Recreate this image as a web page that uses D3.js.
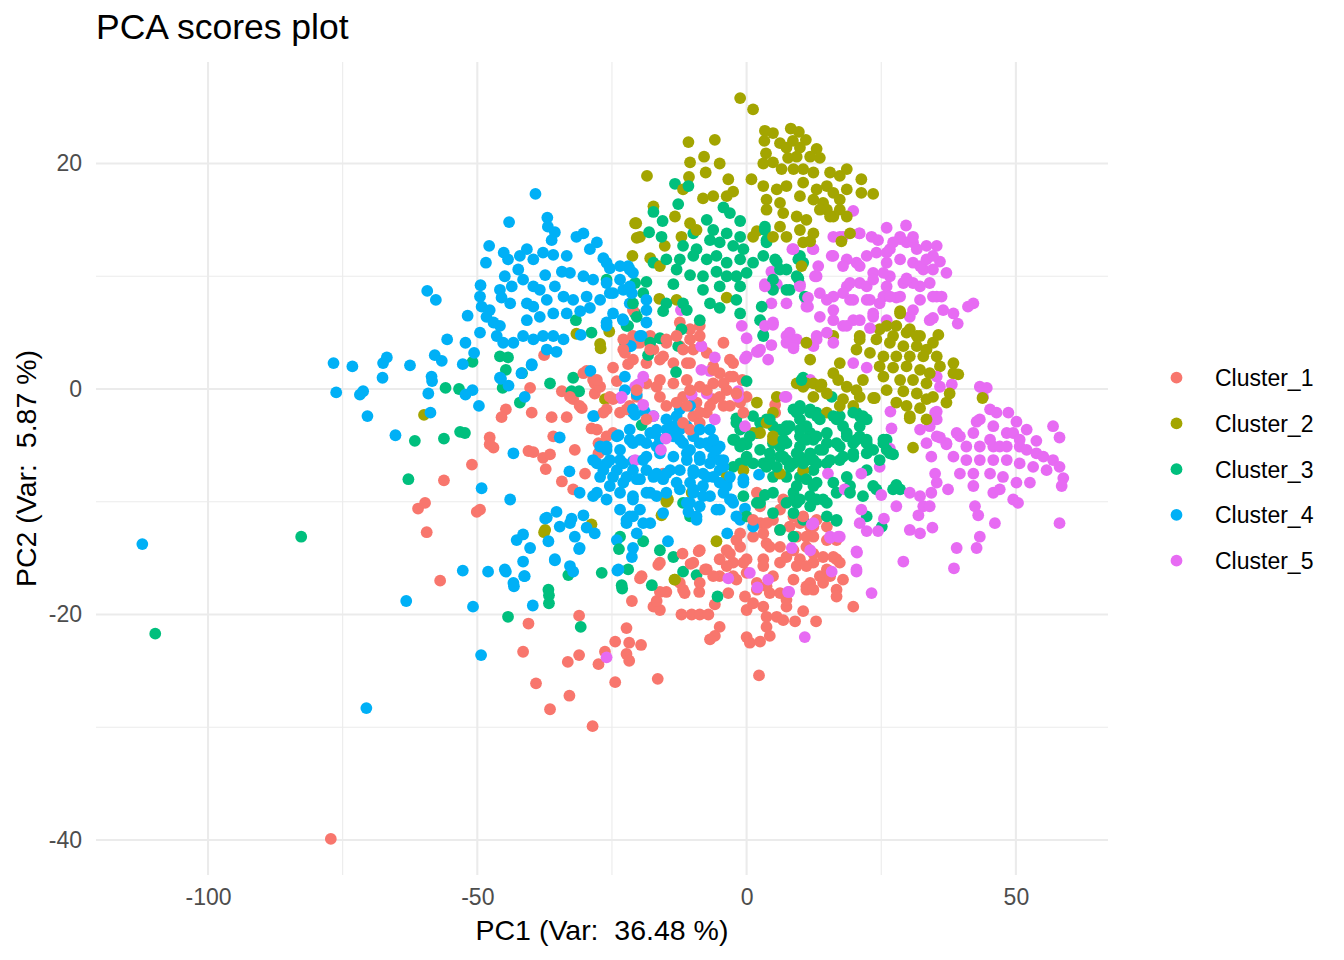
<!DOCTYPE html>
<html>
<head>
<meta charset="utf-8">
<script src="https://cdn.jsdelivr.net/npm/d3@7"></script>
<style>
	html, body { margin: 0; padding: 0; background: #fff; }
	svg { display: block; font-family: "Liberation Sans", Arial, Helvetica, sans-serif; }
</style>
</head>
<body>
<script>
// values, [PC1, PC2]
const cluster1 = [
	[-37.6,3.0],[-40.2,0.1],[-39.9,-2.1],[-44.7,-1.8],[-45.5,-2.5],[-36.2,-2.5],[-33.4,-2.5],[-34.3,-0.2],[-32.2,-0.9],[-30.6,-1.7],
	[-29.7,1.6],[-28.5,0.8],[-27.5,0.2],[-24.8,1.9],[-24.1,0.7],[-28.2,-0.4],[-26.0,-1.8],[-24.8,-0.9],[-22.6,3.2],[-22.0,2.2],
	[-21.1,4.7],[-28.8,-3.5],[-24.8,-3.9],[-35.9,-4.2],[-47.7,-4.3],[-21.7,-1.5],[-21.1,7.0],[-12.4,5.9],[-10.5,5.3],[-8.7,5.6],
	[-17.9,4.7],[-20.4,4.1],[5.3,-1.4],[-30.3,1.4],[-28.2,0.5],[-31.0,-1.5],[-32.8,-0.7],[-47.0,-5.2],[-40.5,-5.5],[-39.6,-5.6],
	[-37.8,-6.1],[-36.5,-5.8],[-37.3,-7.1],[-31.9,-5.4],[-34.3,-8.2],[-32.2,-8.9],[-30.0,-7.5],[-27.5,-4.8],[-27.5,-5.7],[-26.0,-4.2],
	[-49.5,-10.7],[-22.3,3.8],[-19.8,4.1],[-17.3,3.5],[-14.9,4.1],[-12.4,3.8],[-9.9,3.5],[-7.4,3.2],[-21.1,2.6],[-18.6,2.3],
	[-16.1,2.6],[-13.6,2.3],[-11.1,2.3],[-6.2,2.0],[-5.0,1.4],[-2.5,2.3],[-18.6,0.5],[-16.1,0.8],[-13.6,0.5],[-11.1,0.8],
	[-8.7,0.2],[-6.2,0.5],[-3.7,-0.1],[-2.5,1.1],[-20.4,-0.7],[-16.1,-0.7],[-14.9,-1.5],[-11.8,-0.7],[-9.3,-1.2],[-6.2,-0.9],
	[-4.3,-1.5],[-1.2,-1.2],[0.0,-0.7],[-9.9,-2.4],[-8.7,-3.0],[-7.4,-2.1],[-23.5,-2.1],[-15.5,-7.5],[-0.8,0.8],[1.9,-9.2],
	[2.5,-10.4],[-1.2,-11.3],[2.5,-11.9],[4.9,-11.6],[6.2,-12.5],[8.0,-12.2],[9.9,-11.9],[11.8,-12.2],[9.3,-13.1],[12.4,-13.1],
	[1.2,-13.1],[3.7,-13.7],[6.2,-14.0],[8.7,-14.3],[11.1,-14.0],[-1.2,-14.0],[-3.7,-14.3],[-5.0,-15.1],[-2.5,-15.4],[0.0,-15.1],
	[3.1,-15.1],[6.2,-15.4],[9.3,-15.7],[12.4,-15.4],[-7.4,-16.0],[-5.0,-16.6],[-1.9,-16.9],[1.9,-17.2],[4.9,-16.6],[8.7,-16.9],
	[11.8,-17.2],[-9.9,-15.4],[-12.4,-17.2],[-8.7,-14.3],[-16.1,-15.4],[-19.5,-16.6],[3.7,-11.9],[6.2,-10.7],[6.8,-9.8],[8.7,-11.3],
	[12.4,-12.2],[14.9,-12.2],[4.3,-14.0],[7.4,-14.9],[9.9,-15.1],[12.4,-14.6],[14.2,-14.9],[16.7,-15.1],[17.9,-16.9],[16.7,-17.8],
	[13.6,-16.6],[11.1,-17.5],[4.3,-18.1],[14.9,-16.0],[5.3,-2.1],[-61.0,-10.6],[-59.7,-10.1],[-50.1,-10.9],[-59.4,-12.7],[-56.9,-17.0],
	[-40.5,-20.8],[-41.5,-23.3],[-39.1,-26.1],[-36.5,-28.4],[-32.9,-27.2],[-33.2,-24.2],[-31.1,-23.6],[-31.1,-20.1],[-28.6,-29.9],[-27.5,-24.4],
	[-26.3,-23.3],[-24.4,-22.4],[-22.3,-21.2],[-21.8,-22.5],[-19.6,-22.7],[-22.3,-23.5],[-21.8,-24.1],[-24.4,-26.0],[-16.5,-25.7],[2.3,-25.4],
	[-21.3,-18.8],[-17.3,-19.3],[-16.1,-19.6],[-16.7,-18.8],[-16.1,-18.0],[-14.9,-18.0],[-19.8,-16.8],[-16.4,-15.6],[-11.9,-14.6],[-8.9,-14.4],
	[-10.4,-15.5],[-7.7,-16.0],[-11.8,-17.8],[-11.5,-18.1],[-8.8,-18.0],[-8.7,-17.2],[-12.1,-20.0],[-10.2,-20.0],[-8.7,-20.0],[-7.1,-20.0],
	[-5.9,-19.1],[-3.4,-18.1],[-5.0,-21.1],[-5.9,-21.9],[-6.8,-22.2],[0.0,-22.0],[0.6,-22.5],[2.5,-22.4],[4.3,-21.9],[3.7,-21.1],
	[3.7,-20.2],[5.6,-20.2],[6.8,-20.5],[9.0,-20.6],[10.5,-19.7],[12.9,-20.6],[0.0,-19.6],[1.2,-19.0],[3.1,-19.3],[7.4,-19.3],
	[7.4,-18.7],[-0.3,-18.4],[1.9,-17.8],[3.7,-17.5],[6.2,-18.1],[11.1,-17.8],[12.4,-17.8],[14.2,-17.2],[16.7,-18.4],[19.8,-19.3],
	[15.5,-16.6],[-3.1,-14.6],[-1.9,-13.4],[-3.7,-15.7],[-2.5,-16.6],[-6.2,-16.6],[3.1,-12.8],[11.1,-13.1],[16.1,-14.9],[17.3,-15.4],
	[11.1,-15.7],[3.1,-15.7],[0.0,-16.3],[-0.6,-15.4],[1.2,-11.6],[10.5,-11.3],[13.0,-11.6],[16.7,-13.4],[14.9,-13.4],[-1.2,-12.8],
	[-47.7,-4.9],[-51.0,-6.7],[-56.2,-8.1],[-77.2,-39.9],
	[-22.9,3.5],[-17.9,3.5],[-15.5,2.9],[-11.8,3.5],[-10.5,4.4],[-8.7,4.7],[-13.0,4.7],[-14.9,4.4],[-10.5,2.3],[-6.2,1.7],
	[-4.3,0.5],[-3.1,2.6],[-5.0,-0.7],[-3.1,-1.5],[-0.6,-2.1],[-1.9,-0.4],[-16.7,0.2],[-13.0,-1.2],[-11.1,-1.5],[-8.7,-2.1],
	[-6.8,-1.5],[-11.8,-3.0],[-10.5,-3.6],[-25.4,-0.7],[-27.2,0.2],[-26.6,-2.1],[-27.8,-3.6],[-27.8,0.8],[-22.3,-1.8],[-18.6,-2.7],
	[-20.4,-0.1],[-10.5,-0.1],[-7.4,-0.1],[-22.9,4.4],[-4.3,4.1],[-3.1,1.1]
];

const cluster2 = [
	[-31.6,4.9],[-27.2,4.0],[-27.1,3.6],[-25.5,5.1],[-21.2,11.8],[-20.7,14.7],[-20.4,13.4],[-59.9,-2.3],[-26.3,-0.9],[-1.2,25.8],
	[1.2,24.8],[-10.8,21.9],[-5.9,22.1],[-7.9,20.6],[-10.5,20.1],[-5.0,20.0],[-7.6,19.2],[-10.7,18.8],[-3.4,18.6],[-18.5,18.9],
	[-2.5,17.5],[-3.7,17.1],[-8.1,16.9],[-6.2,17.1],[-11.8,17.7],[-17.3,16.2],[-13.3,15.3],[-20.5,14.7],[-19.8,13.5],[-15.2,12.7],
	[-17.9,11.6],[-16.1,10.9],[-12.1,13.5],[-10.5,14.7],[-9.3,14.1],[1.2,13.5],[1.9,14.0],[-16.2,8.0],[-13.0,7.9],[-3.7,8.1],
	[3.4,22.9],[4.9,22.7],[8.2,23.1],[9.7,22.8],[3.3,22.0],[6.2,21.8],[8.6,22.0],[11.0,22.1],[7.4,21.4],[9.9,21.4],
	[13.0,21.3],[3.6,20.9],[4.9,20.1],[3.1,20.0],[7.7,20.5],[9.3,20.6],[11.8,20.6],[13.6,20.5],[6.5,19.5],[8.7,19.5],
	[10.5,19.5],[12.4,19.2],[15.5,19.2],[17.3,18.9],[18.6,19.5],[21.3,18.6],[23.5,17.3],[0.9,18.6],[3.1,18.0],[5.6,17.7],
	[7.4,18.0],[10.5,18.3],[13.0,17.7],[14.9,18.0],[16.1,17.4],[18.6,17.7],[21.3,17.4],[3.7,16.8],[6.2,16.5],[9.9,17.1],
	[12.4,16.8],[14.2,16.5],[17.3,16.8],[3.7,15.9],[6.8,15.6],[9.3,15.3],[11.1,15.0],[14.9,15.9],[16.1,15.3],[18.6,15.3],
	[6.2,14.4],[9.9,14.1],[12.4,13.8],[7.4,13.5],[10.5,13.0],[17.6,13.1],[4.9,13.5],[24.7,5.3],[27.2,4.7],[29.7,5.0],
	[32.2,4.7],[28.5,6.7],[21.0,4.7],[16.1,4.7],[34.6,4.1],[13.6,15.9],[15.5,15.3],[17.3,15.9],[19.2,13.8],[11.8,13.1],
	[10.2,10.9],[28.5,6.9],[26.0,5.6],[27.8,5.6],[30.3,5.3],[31.6,4.7],[35.6,4.8],[24.1,4.4],[26.6,4.1],[29.1,3.8],
	[31.6,3.8],[33.4,3.5],[21.0,4.4],[20.4,3.5],[22.9,3.2],[25.4,2.9],[27.8,2.9],[30.3,2.9],[32.8,2.9],[35.3,2.9],
	[38.4,2.3],[39.3,1.3],[35.9,2.0],[24.7,2.0],[27.2,1.9],[29.7,2.0],[32.2,1.7],[34.0,1.4],[25.4,1.1],[28.5,0.8],
	[30.9,0.8],[33.4,0.5],[26.0,-0.1],[29.1,-0.2],[31.6,-0.4],[34.6,-0.7],[37.1,-1.2],[27.8,-1.2],[29.7,-1.5],[32.2,-1.7],
	[30.3,-2.6],[33.4,-2.7],[30.9,-5.2],[23.8,-0.8],[17.3,2.3],[16.1,1.4],[17.0,0.8],[18.6,0.2],[20.4,-0.1],[21.6,0.8],
	[11.8,2.6],[11.1,4.1],[9.3,0.5],[10.5,0.2],[5.6,-0.7],[13.6,0.2],[17.9,-0.9],[19.8,-1.5],[-14.6,-9.8],[-10.2,-9.2],
	[-5.6,-13.5],[-13.3,-16.9],[-37.4,-12.5],[-28.8,-12.0],[1.9,-1.2],[11.1,0.5],[12.4,-0.7],[14.9,-0.4],[21.0,-0.7],[23.5,-0.8],
	[17.3,-1.5],[14.9,-2.1],[3.7,-3.0],[4.9,-4.2],[33.4,-0.9],[37.7,-0.4],[38.4,1.4],[43.8,-0.8],[30.3,-2.4],[-37.6,-12.7],
	[-13.4,-16.9],[-14.9,-10.0],[-15.8,-11.2],
	[2.5,-3.9],[-3.7,-7.8],[12.4,0.5],[13.9,0.4],[4.9,-2.1],[1.2,-3.9],[4.9,-4.5],[10.5,-7.2],[6.2,-7.5],[-0.6,-7.2]
];

const cluster3 = [
	[-45.8,2.9],[-44.3,2.8],[-50.9,2.4],[-44.7,1.7],[-41.7,1.4],[-36.5,0.5],[-45.3,0.1],[-55.9,0.1],[-53.4,0.0],[-42.1,-1.2],
	[-32.2,1.0],[-32.5,-0.2],[-31.1,-0.2],[-28.8,5.0],[-31.7,6.1],[-26.0,9.7],[-20.7,9.4],[-22.6,4.1],[-22.0,5.6],[-20.7,6.7],
	[-53.2,-3.8],[-52.3,-3.9],[-56.2,-4.4],[-13.3,18.2],[-10.8,18.0],[-12.7,16.4],[-17.3,15.7],[-15.6,14.9],[-18.1,13.9],[-15.8,13.5],
	[-17.3,11.2],[-14.9,11.5],[-9.9,13.8],[-7.4,15.0],[-4.3,16.1],[-3.1,15.6],[-1.2,14.9],[-6.2,14.1],[-3.7,13.8],[-1.2,13.5],
	[-6.8,13.2],[-5.0,13.0],[-2.5,12.7],[-0.6,12.4],[3.4,14.4],[3.7,13.2],[-11.8,12.7],[-9.3,12.4],[-12.4,11.5],[-9.9,11.8],
	[-7.4,11.5],[-5.6,11.8],[-3.7,11.2],[-1.2,11.5],[1.2,11.2],[3.1,11.8],[5.6,11.3],[7.4,10.6],[9.9,11.8],[10.5,11.2],
	[-13.0,10.6],[-10.5,10.1],[-8.1,10.0],[-5.6,10.4],[-3.7,10.0],[-1.9,10.0],[0.0,10.3],[-13.6,9.3],[-8.1,8.8],[-5.0,9.1],
	[-1.2,9.1],[8.0,8.8],[9.6,9.8],[4.9,8.8],[-14.9,7.6],[-11.8,7.6],[-11.1,7.0],[-6.8,7.6],[-5.0,7.2],[-1.9,7.9],
	[-15.5,6.9],[-8.7,6.1],[-1.2,6.7],[2.8,7.3],[2.5,6.1],[3.1,4.7],[-12.1,5.3],[-21.1,7.6],[-20.4,6.4],[-22.3,5.6],
	[-18.6,9.5],[-19.2,8.5],[3.4,14.1],[3.7,13.0],[5.3,11.5],[6.2,10.6],[4.9,9.7],[7.4,8.8],[9.6,11.5],[9.3,10.0],
	[10.8,8.2],[3.1,4.8],[10.5,1.0],[15.8,-0.7],[9.9,-1.8],[13.0,-2.1],[17.3,-2.4],[20.4,-2.1],[22.3,-2.7],[3.7,-2.7],
	[7.4,-3.6],[11.8,-3.9],[14.9,-3.9],[18.6,-3.9],[21.0,-4.2],[26.0,-4.5],[6.2,-5.1],[9.9,-5.1],[13.6,-5.4],[17.3,-5.1],
	[23.5,-5.4],[-12.7,3.8],[-16.1,4.5],[-18.3,3.0],[-13.1,1.5],[0.0,0.7],[-19.5,-3.2],[-1.9,-2.6],[-1.2,-3.6],[-2.5,-4.5],
	[-0.6,-4.8],[1.2,-2.4],[1.9,-3.9],[2.5,-3.0],[4.9,-3.3],[6.2,-3.6],[7.4,-3.3],[8.7,-1.8],[9.9,-2.7],[11.8,-2.1],
	[12.4,-4.5],[9.9,-4.2],[7.4,-4.8],[4.9,-4.8],[2.5,-5.4],[0.0,-6.0],[-1.2,-6.6],[3.1,-6.6],[6.2,-6.0],[8.7,-6.6],
	[11.1,-6.3],[12.4,-7.2],[9.9,-7.8],[7.4,-7.8],[4.9,-7.8],[-0.6,-9.5],[1.9,-10.1],[4.9,-9.2],[8.7,-9.2],[9.3,-10.1],
	[11.8,-9.5],[4.9,-11.0],[10.5,-11.6],[8.7,-13.1],[-11.8,-10.1],[-10.5,-11.3],[-23.5,-13.1],[-19.2,-13.5],[-16.1,-14.3],[-13.6,-14.9],
	[-11.8,-16.2],[-9.3,-16.5],[-22.0,-16.0],[-23.2,-17.4],[-26.9,-16.3],[-33.1,-16.5],[-36.8,-17.8],[10.2,0.8],[24.1,-8.9],[27.8,-8.5],
	[28.5,-8.9],[25.4,-4.5],[26.0,-5.4],[27.2,-5.8],[22.3,-11.3],[25.1,-12.2],[21.6,-9.5],[19.2,-8.6],[16.7,-11.6],[14.9,-10.1],
	[12.4,-8.6],[8.7,-9.8],[6.2,-12.5],[17.9,-3.3],[21.0,-3.3],[22.3,-4.5],[19.8,-4.8],[14.9,-4.8],[11.1,-3.3],[13.6,-2.7],
	[16.1,-2.4],[21.0,-2.4],[7.4,-6.3],[9.9,-6.0],[12.4,-6.3],[14.9,-6.6],[17.3,-6.3],[19.8,-6.0],[22.3,-5.7],[4.3,-6.3],
	[2.5,-10.1],[14.2,-9.8],[16.7,-9.2],[22.3,-7.2],[-36.7,-18.3],[-36.7,-19.0],[-44.3,-20.2],[-30.8,-21.1],[-23.7,-14.2],[-23.1,-17.7],
	[-17.6,-17.4],[-5.4,-18.4],[16.7,-11.7],[-62.8,-8.0],[-61.6,-4.6],[-82.7,-13.1],[-109.8,-21.7],
	[-17.9,4.1],[-1.9,-3.0],[-2.2,-4.5],[0.0,-4.9],[-2.5,-6.9],[0.0,-11.3],[9.9,-1.5],[11.8,-1.8],[13.0,-2.4],[9.3,-2.1],
	[4.3,-2.7],[8.0,-3.3],[9.9,-3.6],[6.8,-4.5],[11.1,-4.5],[13.0,-4.2],[16.7,-2.7],[19.8,-2.1],[21.6,-2.4],[18.6,-4.2],
	[20.4,-4.5],[22.3,-4.8],[16.7,-4.8],[14.2,-5.4],[11.8,-5.7],[9.3,-5.7],[6.8,-6.0],[4.3,-5.7],[1.2,-6.6],[3.7,-6.9],
	[5.6,-6.9],[8.0,-6.9],[10.5,-6.6],[13.0,-6.6],[15.5,-6.3],[17.9,-6.0],[19.8,-5.7],[25.4,-4.8],[26.6,-5.7],[24.7,-6.3],
	[0.0,-6.3],[-1.2,-5.1],[0.6,-4.2],[11.1,-8.0],[13.0,-8.3],[9.3,-8.6],[16.1,-8.3],[18.6,-7.8],[23.5,-8.6],[19.2,-9.2],
	[27.2,-8.9],[7.4,-10.1],[9.9,-9.8],[11.8,-10.4],[8.7,-11.0],[14.9,-11.3],[3.4,-9.4],[13.0,-9.8]
];

const cluster4 = [
	[-39.2,17.3],[-44.1,14.8],[-37.0,15.2],[-36.9,14.4],[-35.6,13.9],[-36.2,13.2],[-47.8,12.7],[-48.4,11.2],[-45.1,12.1],[-44.3,11.5],
	[-42.1,11.8],[-40.8,12.4],[-39.6,11.5],[-37.8,12.1],[-35.9,11.9],[-33.4,11.8],[-31.6,13.5],[-30.3,13.8],[-27.8,13.0],[-29.1,12.4],
	[-26.6,11.6],[-25.4,10.7],[-23.5,10.9],[-22.0,10.9],[-21.1,10.3],[-42.4,10.6],[-41.5,9.7],[-44.9,10.0],[-37.4,10.1],[-34.3,10.4],
	[-32.8,10.3],[-30.3,10.0],[-28.5,9.7],[-26.0,9.4],[-23.5,9.7],[-21.7,9.1],[-49.4,9.2],[-49.5,8.2],[-49.2,7.3],[-47.7,7.0],
	[-48.3,6.4],[-51.8,6.5],[-45.8,8.8],[-45.5,8.1],[-43.6,9.1],[-43.9,7.6],[-39.6,9.1],[-38.4,8.8],[-35.6,9.1],[-40.8,7.6],
	[-39.6,7.3],[-37.1,7.9],[-34.0,8.2],[-32.2,7.9],[-29.7,8.2],[-27.2,7.9],[-24.8,8.5],[-22.9,8.8],[-21.7,7.6],[-40.8,6.1],
	[-38.4,6.4],[-35.9,6.7],[-33.4,6.7],[-30.9,6.9],[-29.1,7.2],[-24.8,6.7],[-23.0,6.2],[-26.0,5.6],[-47.0,5.9],[-45.8,5.6],
	[-49.5,5.0],[-46.4,4.7],[-45.2,4.1],[-43.3,4.1],[-41.5,4.7],[-39.6,4.4],[-37.8,4.7],[-35.9,4.7],[-34.0,4.4],[-37.1,3.5],
	[-35.3,3.3],[-30.8,4.8],[-21.5,3.8],[-55.6,4.4],[-52.2,4.1],[-50.6,3.2],[-52.7,2.2],[-57.9,3.0],[-56.6,2.5],[-59.3,8.7],
	[-57.7,7.9],[-62.5,2.1],[-66.8,2.8],[-67.5,2.3],[-67.6,1.0],[-73.2,2.0],[-76.7,2.3],[-76.2,-0.3],[-71.8,-0.5],[-71.2,-0.2],
	[-70.4,-2.4],[-65.2,-4.1],[-58.5,1.1],[-58.4,0.7],[-59.1,-0.4],[-58.7,-2.1],[-52.2,-0.5],[-50.9,-0.1],[-49.7,-1.5],[-45.6,0.9],
	[-44.2,0.3],[-41.2,-0.7],[-39.9,2.1],[-29.0,1.6],[-22.6,1.1],[-28.3,-2.4],[-21.1,-2.1],[-22.6,-0.1],[-23.8,-4.1],[-21.7,-3.6],
	[-34.7,-4.3],[-26.0,11.2],[-21.7,10.6],[-25.4,8.5],[-21.3,8.5],[-18.6,7.9],[-18.6,7.0],[-26.0,5.9],[-22.9,6.1],[-18.6,5.9],
	[-19.8,4.7],[-19.5,4.7],[-21.7,3.8],[-39.9,2.2],[-41.8,1.4],[-45.8,1.0],[-20.4,-0.5],[-20.7,-2.3],[-18.9,-2.0],[-17.3,-2.4],
	[-14.9,-2.7],[-12.4,-1.8],[-10.5,-1.5],[-13.6,-3.3],[-11.1,-3.3],[-6.8,-3.6],[-17.3,-3.9],[-21.1,-4.8],[-18.6,-4.8],[-16.1,-4.5],
	[-12.4,-4.5],[-9.9,-4.2],[-7.4,-4.8],[-5.0,-5.1],[-27.2,-5.1],[-26.0,-5.4],[-28.5,-6.3],[-26.0,-6.6],[-23.5,-6.3],[-21.1,-6.4],
	[-18.6,-6.0],[-16.1,-5.7],[-13.6,-6.0],[-11.1,-5.7],[-8.7,-6.0],[-6.2,-6.0],[-27.2,-7.8],[-24.8,-7.8],[-22.3,-7.8],[-19.8,-8.0],
	[-17.3,-7.8],[-14.9,-7.5],[-12.4,-7.2],[-9.9,-7.5],[-7.4,-7.8],[-5.0,-7.2],[-3.7,-8.3],[-12.4,-8.9],[-9.9,-8.9],[-8.1,-9.5],
	[-18.6,-9.2],[-16.7,-9.5],[-31.0,-9.2],[-28.5,-9.5],[-26.0,-9.8],[-23.5,-9.2],[-21.1,-9.8],[-23.5,-10.7],[-21.7,-11.3],[-19.8,-10.7],
	[-17.9,-11.9],[-22.3,-11.9],[-20.4,-12.8],[-21.1,-14.1],[-21.3,-14.9],[-24.1,-13.4],[-23.8,-16.0],[-15.5,-11.0],[-14.6,-13.5],[-11.1,-10.1],
	[-9.3,-11.6],[-10.8,-10.9],[-5.0,-10.7],[-2.8,-9.8],[-1.2,-11.6],[-0.3,-10.6],[-0.6,-8.0],[1.2,-12.2],[-3.6,-12.8],[2.3,-7.6],
	[-14.9,-3.6],[-12.4,-3.6],[-43.9,-9.8],[-43.3,-5.7],[-49.2,-8.8],[-32.9,-7.3],[-37.1,-11.4],[-35.3,-10.9],[-34.7,-12.2],[-32.8,-11.9],
	[-30.3,-11.2],[-29.7,-12.3],[-28.2,-12.8],[-31.9,-13.1],[-31.0,-14.1],[-36.8,-13.5],[-42.7,-13.4],[-41.5,-12.9],[-40.2,-14.1],[-41.5,-15.3],
	[-41.2,-16.6],[-35.6,-15.1],[-32.8,-15.7],[-32.2,-16.2],[-44.9,-16.0],[-48.0,-16.2],[-43.3,-17.2],[-52.7,-16.1],[-44.7,-16.2],[-43.2,-17.5],
	[-41.3,-16.6],[-37.4,-11.5],[-35.6,-15.2],[-31.1,-14.2],[-32.5,-11.5],[-63.2,-18.8],[-50.8,-19.3],[-39.7,-19.2],[-49.3,-23.6],[-24.0,-16.1],
	[-112.2,-13.75],[-70.6,-28.3],
	[-13.0,-2.4],[-16.7,-3.6],[-17.9,-3.9],[-21.7,-4.5],[-19.8,-4.5],[-16.7,-5.1],[-13.6,-4.2],[-11.8,-4.8],[-8.7,-4.8],[-6.8,-5.1],
	[-10.5,-5.4],[-11.1,-6.3],[-8.7,-6.3],[-6.8,-6.6],[-5.0,-6.3],[-14.2,-7.2],[-9.9,-7.2],[-8.1,-7.5],[-6.2,-7.8],[-5.0,-8.3],
	[-16.7,-7.5],[-18.6,-7.2],[-21.1,-7.2],[-24.1,-7.2],[-26.6,-7.2],[-27.8,-6.6],[-25.4,-6.3],[-22.9,-6.6],[-19.2,-6.3],[-26.0,-5.1],
	[-23.5,-5.4],[-20.4,-8.0],[-22.9,-8.3],[-25.4,-8.6],[-27.8,-9.2],[-21.1,-9.5],[-17.9,-9.2],[-21.1,-11.3],[-22.3,-11.6],[-19.2,-11.9],
	[-15.5,-8.0],[-13.0,-8.3],[-10.5,-8.3],[-8.1,-8.6],[-14.9,-9.2],[-9.9,-9.2],[-6.8,-9.5],[-4.3,-9.2],[-3.1,-9.8],[-8.7,-10.4],
	[-10.5,-10.1],[-5.6,-10.7],[-3.7,-8.6],[-2.5,-10.1],[-1.9,-11.3],[-9.3,-11.3],[-0.6,-8.3],[-4.3,-6.9],[-3.1,-7.8],[-5.6,-5.4],
	[-4.3,-6.3],[-6.2,-4.5],[-8.7,-3.6],[-24.1,-4.2],[-28.5,-2.4],[-21.1,-1.8]
];

const cluster5 = [
	[-23.4,-0.8],[-20.7,0.2],[19.8,15.8],[16.1,13.5],[17.3,13.5],[20.9,13.8],[23.2,13.5],[26.0,14.3],[29.6,14.5],[8.5,12.4],
	[12.3,12.4],[4.6,10.4],[3.4,9.3],[5.6,9.3],[9.9,9.3],[13.3,10.9],[13.0,10.0],[16.1,11.8],[18.6,11.5],[20.4,11.2],
	[22.3,11.8],[24.1,12.1],[26.6,12.4],[28.5,13.3],[30.9,13.0],[33.4,12.7],[35.3,12.7],[26.0,11.2],[28.5,11.5],[30.9,11.2],
	[32.8,10.6],[23.5,10.3],[26.6,10.0],[29.1,9.4],[34.0,9.4],[21.0,9.4],[18.6,9.1],[13.6,8.5],[16.1,8.2],[19.2,7.9],
	[22.3,7.9],[25.4,8.2],[27.8,8.1],[32.2,7.9],[34.6,8.2],[11.1,7.9],[11.1,7.3],[7.4,7.6],[13.6,6.4],[16.1,6.1],
	[19.8,6.1],[23.5,6.7],[26.0,6.1],[30.9,7.0],[34.0,6.1],[17.9,5.6],[13.0,4.7],[8.0,5.0],[9.3,4.4],[4.9,5.9],
	[-0.9,5.6],[0.0,4.5],[4.6,7.6],[-12.2,7.0],[-8.4,3.8],[35.9,11.3],[37.1,10.3],[34.6,10.6],[42.1,7.6],[41.1,7.3],
	[36.5,7.0],[38.4,6.7],[39.2,5.8],[35.3,8.2],[36.2,8.2],[34.6,6.3],[30.3,6.4],[28.5,8.2],[32.2,9.1],[30.9,9.4],
	[29.7,9.8],[32.2,10.9],[33.4,11.5],[34.6,11.8],[31.6,12.4],[29.7,13.0],[30.9,13.5],[28.5,13.5],[27.2,13.0],[26.0,12.1],
	[21.0,10.9],[17.9,10.9],[21.0,13.8],[24.4,13.2],[17.9,13.5],[15.8,11.8],[12.4,12.4],[8.7,12.4],[12.7,10.0],[9.9,9.1],
	[3.4,9.1],[11.4,8.1],[11.4,7.3],[14.9,7.9],[16.1,7.0],[17.9,8.5],[19.8,7.9],[19.2,9.4],[22.3,9.1],[23.5,9.7],
	[25.4,10.3],[26.0,9.1],[22.9,7.9],[24.7,7.6],[26.6,8.2],[18.6,5.6],[21.0,6.1],[23.5,6.4],[22.9,5.4],[14.9,5.0],
	[13.0,4.4],[16.1,4.1],[12.4,3.8],[7.4,4.7],[8.7,3.8],[4.6,3.9],[4.0,2.6],[2.5,3.5],[3.4,5.6],[4.9,5.7],
	[19.8,2.3],[22.3,1.9],[11.8,0.8],[7.4,-0.7],[35.3,1.1],[35.9,0.2],[38.1,0.4],[26.7,-2.0],[26.9,-3.5],[26.6,-5.3],
	[32.2,-3.6],[34.0,-3.3],[35.0,-2.1],[35.3,-2.7],[33.4,-4.8],[35.3,-4.2],[37.1,-4.9],[43.3,0.2],[44.6,0.1],[43.9,-0.7],
	[45.2,-1.8],[46.4,-2.1],[48.6,-2.1],[50.1,-2.9],[52.0,-3.6],[56.9,-3.3],[58.1,-4.3],[42.7,-2.9],[43.3,-2.7],[45.8,-3.3],
	[48.3,-3.9],[49.5,-3.9],[50.7,-4.5],[53.8,-4.6],[42.1,-3.9],[39.6,-4.2],[39.0,-3.9],[37.1,-4.8],[40.8,-5.1],[43.3,-5.1],
	[45.2,-4.5],[45.8,-5.1],[47.0,-5.1],[48.3,-5.1],[50.7,-5.1],[52.0,-5.4],[53.8,-5.7],[55.1,-6.0],[56.9,-6.3],[58.1,-6.9],
	[58.8,-7.9],[58.5,-8.6],[38.4,-6.0],[40.8,-6.3],[43.3,-6.3],[45.8,-6.3],[48.3,-6.3],[50.7,-6.6],[53.2,-6.9],[55.7,-7.2],
	[39.6,-7.5],[42.1,-7.5],[45.2,-7.5],[47.6,-7.8],[50.1,-8.3],[52.6,-8.3],[42.1,-8.6],[45.8,-9.2],[47.0,-8.9],[49.5,-9.8],
	[50.4,-10.1],[42.4,-10.4],[43.0,-11.2],[46.1,-11.9],[58.1,-11.9],[37.4,-8.9],[35.3,-8.3],[35.0,-7.5],[34.3,-6.0],[35.9,-4.3],
	[35.3,-2.0],[24.7,-6.9],[25.0,-9.4],[27.8,-10.4],[30.3,-9.2],[32.2,-9.5],[32.8,-10.4],[31.9,-11.2],[34.3,-9.2],[34.0,-10.4],
	[30.3,-12.5],[32.2,-12.8],[34.5,-12.3],[25.5,-11.5],[24.4,-12.6],[21.0,-11.9],[22.3,-12.6],[21.3,-10.7],[20.4,-14.4],[20.4,-16.0],
	[23.2,-18.1],[29.1,-15.3],[39.0,-14.1],[38.5,-15.9],[42.7,-14.1],[43.3,-13.1],[15.1,-7.5],[18.2,-8.9],[21.3,-7.5],[15.5,-13.1],
	[17.3,-13.1],[15.8,-16.2],[7.7,-18.0],[-8.4,3.8],[-5.9,2.8],[-8.4,1.7],[-6.8,1.6],[-10.2,-0.5],[-7.4,-0.4],[-1.6,-0.2],
	[-1.6,-0.7],[-19.2,1.1],[-20.1,0.4],[-23.2,-0.7],[-19.2,-1.4],[-17.3,-2.4],[-5.9,-2.7],[-0.3,-3.3],[-15.0,-4.4],[-15.9,-5.4],
	[-20.7,-6.3],[0.0,2.9],[1.9,3.3],[7.4,4.1],[8.7,3.6],[7.1,-0.7],[12.1,-12.0],[8.4,-14.1],[11.8,-14.3],[-3.4,-16.8],
	[0.6,-16.3],[4.0,-16.9],[-26.0,-23.8],[2.0,-17.6],[7.9,-18.0],[10.8,-22.0],[20.4,-16.2],[20.5,-14.5],[15.5,-13.2],[17.0,-13.1],
	[12.4,-11.9],[-0.3,2.7],[2.2,3.3]
];

const clusterNames = ['Cluster_1', 'Cluster_2', 'Cluster_3', 'Cluster_4', 'Cluster_5'];
const clusterPoints = [cluster1, cluster2, cluster3, cluster4, cluster5];

const xMajor = [-100, -50, 0, 50];
const xMinor = [-75, -25, 25];
const yMajor = [-40, -20, 0, 20];
const yMinor = [-30, -10, 10];

const titleText = 'PCA scores plot';
const xTitle = 'PC1 (Var:  36.48 %)';
const yTitle = 'PC2 (Var:  5.87 %)';

document.addEventListener('DOMContentLoaded', () => {
	const width = 1344;
	const height = 960;
	const panel = { left: 96, right: 1108, top: 62, bottom: 875 };
	const radius = 5.9;

	let svg = d3.select('body')
		.append('svg')
		.attr('width', width)
		.attr('height', height);

	let x = d3.scaleLinear().domain([-120.8, 67.1]).range([panel.left, panel.right]);
	let y = d3.scaleLinear().domain([-43.1, 29.0]).range([panel.bottom, panel.top]);

	// ggplot default hue palette for 5 groups
	let color = d3.scaleOrdinal()
		.domain(clusterNames)
		.range(['#F8766D', '#A3A500', '#00BF7D', '#00B0F6', '#E76BF3']);

	let grid = svg.append('g').attr('id', 'grid');

	grid.selectAll('line.xminor')
		.data(xMinor)
		.enter().append('line')
		.attr('class', 'xminor')
		.attr('x1', d => x(d)).attr('x2', d => x(d))
		.attr('y1', panel.top).attr('y2', panel.bottom)
		.style('stroke', '#ebebeb')
		.style('stroke-width', 1.1);

	grid.selectAll('line.yminor')
		.data(yMinor)
		.enter().append('line')
		.attr('class', 'yminor')
		.attr('x1', panel.left).attr('x2', panel.right)
		.attr('y1', d => y(d)).attr('y2', d => y(d))
		.style('stroke', '#ebebeb')
		.style('stroke-width', 1.1);

	grid.selectAll('line.xmajor')
		.data(xMajor)
		.enter().append('line')
		.attr('class', 'xmajor')
		.attr('x1', d => x(d)).attr('x2', d => x(d))
		.attr('y1', panel.top).attr('y2', panel.bottom)
		.style('stroke', '#ebebeb')
		.style('stroke-width', 2.1);

	grid.selectAll('line.ymajor')
		.data(yMajor)
		.enter().append('line')
		.attr('class', 'ymajor')
		.attr('x1', panel.left).attr('x2', panel.right)
		.attr('y1', d => y(d)).attr('y2', d => y(d))
		.style('stroke', '#ebebeb')
		.style('stroke-width', 2.1);

	// axis tick labels only (theme_minimal has no axis lines or ticks)
	let xAxis = svg.append('g')
		.attr('transform', `translate(0, ${panel.bottom})`)
		.call(d3.axisBottom(x).tickValues(xMajor).tickFormat(d => String(d)).tickSize(0).tickPadding(13.7));
	xAxis.select('.domain').remove();
	xAxis.selectAll('text')
		.style('font-size', '23px')
		.style('fill', '#4d4d4d')
		.style('font-family', '"Liberation Sans", Arial, sans-serif');

	let yAxis = svg.append('g')
		.attr('transform', `translate(${panel.left}, 0)`)
		.call(d3.axisLeft(y).tickValues(yMajor).tickFormat(d => String(d)).tickSize(0).tickPadding(14));
	yAxis.select('.domain').remove();
	yAxis.selectAll('text')
		.style('font-size', '23px')
		.style('fill', '#4d4d4d')
		.style('font-family', '"Liberation Sans", Arial, sans-serif');

	// points, interleaved so no cluster sits entirely on top
	let points = [];
	let maxLen = d3.max(clusterPoints, c => c.length);
	for (let i = 0; i < maxLen; ++i) {
		clusterPoints.forEach((c, k) => {
			if (i < c.length)
				points.push({ pc1: c[i][0], pc2: c[i][1], cluster: clusterNames[k] });
		});
	}

	svg.append('g').attr('id', 'points')
		.selectAll('circle')
		.data(points)
		.enter().append('circle')
		.attr('cx', d => x(d.pc1))
		.attr('cy', d => y(d.pc2))
		.attr('r', radius)
		.style('fill', d => color(d.cluster));

	// title and axis titles
	svg.append('text')
		.attr('x', panel.left)
		.attr('y', 39)
		.style('font-size', '35.5px')
		.style('fill', '#000')
		.text(titleText);

	svg.append('text')
		.attr('x', (panel.left + panel.right) / 2)
		.attr('y', 940)
		.attr('text-anchor', 'middle')
		.style('font-size', '28.5px')
		.style('white-space', 'pre')
		.style('fill', '#000')
		.text(xTitle);

	svg.append('text')
		.attr('transform', `translate(36, ${(panel.top + panel.bottom) / 2}) rotate(-90)`)
		.attr('text-anchor', 'middle')
		.style('font-size', '28.5px')
		.style('white-space', 'pre')
		.style('fill', '#000')
		.text(yTitle);

	// legend
	let legend = svg.append('g')
		.attr('id', 'legend')
		.selectAll('g')
		.data(clusterNames)
		.enter().append('g')
		.attr('transform', (d, i) => `translate(1176.5, ${377.7 + i * 45.75})`);

	legend.append('circle')
		.attr('r', radius)
		.style('fill', d => color(d));

	legend.append('text')
		.attr('x', 38.5)
		.attr('y', 8.3)
		.style('font-size', '23px')
		.style('fill', '#000')
		.text(d => d);
});
</script>
</body>
</html>
